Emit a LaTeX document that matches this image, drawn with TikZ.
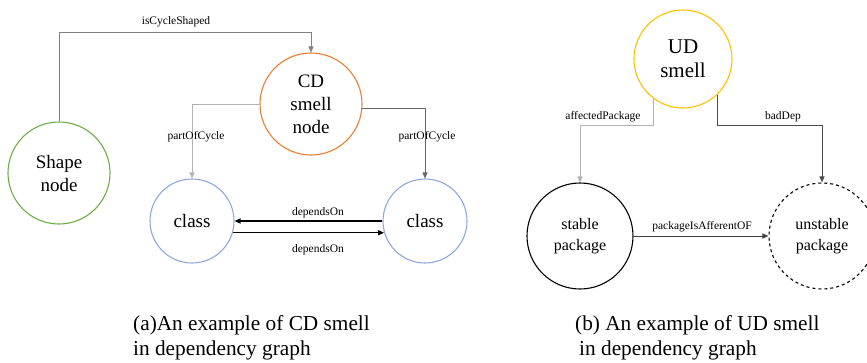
\documentclass[tikz,border=0pt]{standalone}
\usepackage{fontspec}
\setmainfont{Liberation Serif}
\usetikzlibrary{arrows.meta}
\definecolor{cgreen}{HTML}{70AD47}
\definecolor{corange}{HTML}{ED7D31}
\definecolor{cblue}{HTML}{8FA8DC}
\definecolor{cyellow}{HTML}{FFC000}
\tikzset{
  ent/.style={circle, draw, line width=1.1pt, inner sep=0pt, align=center,
    font=\fontsize{19}{23}\selectfont},
  link/.style={draw=gray, line width=0.8pt, -{Triangle[length=6pt,width=5pt]}},
  lightlink/.style={link, draw=black!30},
  dep/.style={draw=black, line width=1.3pt, -{Triangle[length=6pt,width=5pt]}},
  elabel/.style={font=\fontsize{11.5}{13}\selectfont, inner sep=1pt},
  caption/.style={align=left, anchor=west, inner sep=0pt,
    font=\fontsize{21.3}{24.5}\selectfont}
}
\begin{document}
\begin{tikzpicture}[x=1pt,y=-1pt]
\useasboundingbox (0,0) rectangle (867,362);

% (a) cyclic dependency
\node[ent, draw=cgreen, minimum size=102pt] (shape) at (59,173) {Shape\\node};
\node[ent, draw=corange, minimum size=102pt] (cd) at (311,104) {CD\\smell\\node};
\node[ent, draw=cblue, minimum size=84pt] (c1) at (192,221) {class};
\node[ent, draw=cblue, minimum size=84pt] (c2) at (425,221) {class};

\coordinate (k1) at (59,32);
\draw[link] (shape.north) -- (k1) -| (cd.north);
\node[elabel] (lshape) at (176,22) {isCycleShaped};

\draw[lightlink] (cd.west) -| (c1.north);
\node[elabel] (lp1) at (196,137) {partOfCycle};
\draw[link, draw=black!60] (cd.-5) -| (c2.north);
\node[elabel] (lp2) at (427,137) {partOfCycle};

\draw[dep] (c2.west) -- (c1.east);
\node[elabel] (ld1) at (318,213) {dependsOn};
\draw[dep] (c1.-16) -- (c2.196);
\node[elabel] (ld2) at (318,250) {dependsOn};

\node[caption] (capa) at (133,338) {(a)An example of CD smell\\in dependency graph};

% (b) unstable dependency
\node[ent, draw=cyellow, minimum size=98pt, font=\fontsize{21}{24}\selectfont] (ud) at (683,59) {UD\\smell};
\node[ent, draw=black, minimum size=106pt, font=\fontsize{16}{21}\selectfont] (sp) at (580,236) {stable\\package};
\node[ent, draw=black, dashed, minimum size=106pt, font=\fontsize{16}{21}\selectfont] (up) at (822,236) {unstable\\package};

\coordinate (k2) at (580,125);
\coordinate (k3) at (822,125);
\draw[lightlink] (ud.234) |- (k2) -- (sp.north);
\node[elabel] (laf) at (603,117) {affectedPackage};
\draw[link, draw=black!70] (ud.-46) |- (k3) -- (up.north);
\node[elabel] (lbd) at (783,117) {badDep};

\draw[link, draw=black!75, line width=1pt] (sp.east) -- (up.west);
\node[elabel] (lpa) at (702,227) {packageIsAfferentOF};

\node[caption] (capb) at (575,338) {(b) An example of UD smell\\\hspace*{4pt}in dependency graph};
\end{tikzpicture}
\end{document}
